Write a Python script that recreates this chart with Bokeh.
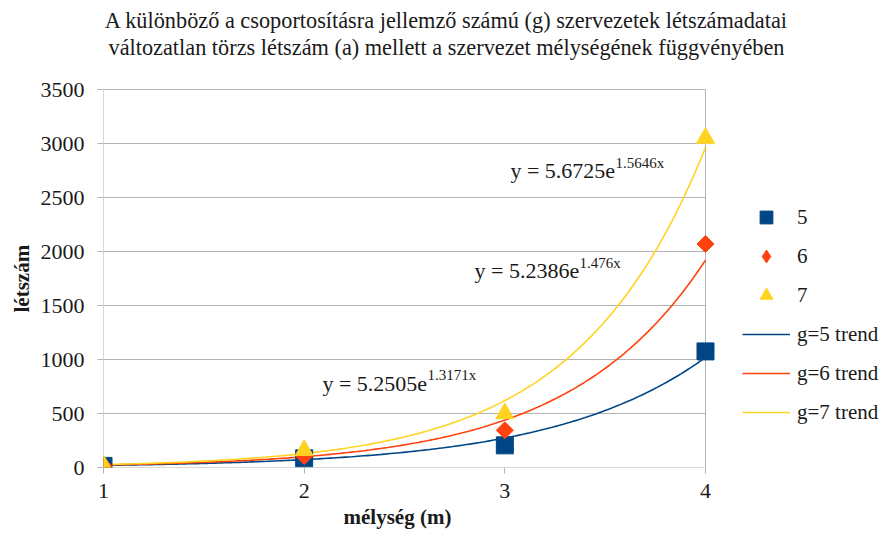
import numpy as np
from bokeh.plotting import figure
from bokeh.models import (ColumnDataSource, Legend, LegendItem, Label, Title,
                          FixedTicker, Range1d)
from bokeh.embed import file_html
from bokeh.resources import INLINE

# Organisation headcount by depth for span-of-control groups g = 5, 6, 7
depth = [1, 2, 3, 4]
g5_headcount = [15, 85, 205, 1075]
g6_headcount = [17, 105, 345, 2070]
g7_headcount = [20, 160, 500, 3050]

groups = ["5", "6", "7"]
trend_names = ["g=5 trend", "g=6 trend", "g=7 trend"]
# exponential trend y = a * exp(b * x)
trend_a = [5.2505, 5.2386, 5.6725]
trend_b = [1.3171, 1.476, 1.5646]

y_ticks = [0, 500, 1000, 1500, 2000, 2500, 3000, 3500]
x_ticks = [1, 2, 3, 4]

title_lines = ["A különböző a csoportosításra jellemző számú (g) szervezetek létszámadatai",
               "változatlan törzs létszám (a) mellett a szervezet mélységének függvényében"]

colors = ["#004586", "#ff420e", "#ffd320"]
FONT = "'Liberation Serif', 'Times New Roman', serif"
GRID = "#b3b3b3"
INK = "#1a1a1a"

X_MIN, X_MAX = x_ticks[0], x_ticks[-1]
Y_MIN, Y_MAX = y_ticks[0], y_ticks[-1]
# data area is 602 x 378 px; the frame extends right over the legend
# and up over the heading, so both live in the same coordinate system
PX_X = 602 / (X_MAX - X_MIN)
PX_Y = 378 / (Y_MAX - Y_MIN)
X_VIEW_END = X_MIN + 779 / PX_X
Y_VIEW_END = Y_MIN + 467 / PX_Y

p = figure(width=882, height=539, output_backend="svg", toolbar_location=None,
           x_range=Range1d(X_MIN, X_VIEW_END), y_range=Range1d(Y_MIN, Y_VIEW_END),
           min_border_left=103, min_border_right=0,
           min_border_top=0, min_border_bottom=72)
p.outline_line_color = None
p.background_fill_color = "white"
p.border_fill_color = "white"
p.title.visible = False

# axes
for ax in (p.xaxis[0], p.yaxis[0]):
    ax.axis_line_color = None
    ax.major_tick_line_color = GRID
    ax.major_tick_in = 0
    ax.major_tick_out = 6
    ax.minor_tick_line_color = None
    ax.major_label_text_font = FONT
    ax.major_label_text_font_size = "22px"
    ax.major_label_text_color = INK

p.xaxis.ticker = FixedTicker(ticks=x_ticks)
p.yaxis.ticker = FixedTicker(ticks=y_ticks)
p.xaxis.major_label_standoff = 10
p.yaxis.major_label_standoff = 13

# axis titles, centred on the data area
p.add_layout(Title(text="mélység (m)", align="left", offset=240,
                   text_font=FONT, text_font_size="21px", text_font_style="bold",
                   text_color=INK, standoff=4), "below")
p.add_layout(Title(text="létszám", align="left", offset=155,
                   text_font=FONT, text_font_size="21px", text_font_style="bold",
                   text_color=INK, standoff=8), "left")

p.xgrid.grid_line_color = None
p.ygrid.grid_line_color = None

# gridlines, y axis line and right border limited to the data area
p.segment(x0=[X_MIN] * len(y_ticks), x1=[X_MAX] * len(y_ticks), y0=y_ticks, y1=y_ticks,
          line_color=GRID, line_width=1)
p.segment(x0=[X_MIN, X_MAX], x1=[X_MIN, X_MAX], y0=[Y_MIN, Y_MIN], y1=[Y_MAX, Y_MAX],
          line_color=GRID, line_width=1)

# heading, two centred lines above the data area
title_x = X_MIN + 343 / PX_X
for line, top_px in zip(title_lines, [20, 47]):
    p.add_layout(Label(x=title_x, y=Y_MIN + (467 - top_px) / PX_Y, text=line,
                       text_align="center", text_baseline="middle",
                       text_font=FONT, text_font_size="22.3px", text_color=INK))

# trend curves
xs = np.linspace(X_MIN, X_MAX, 200)
trend_renderers = []
for a, b, c in zip(trend_a, trend_b, colors):
    r = p.line(xs, a * np.exp(b * xs), line_color=c, line_width=1.6)
    trend_renderers.append(r)

# data markers
series = [g5_headcount, g6_headcount, g7_headcount]
src = [ColumnDataSource(dict(x=depth, y=s)) for s in series]
r5 = p.scatter("x", "y", source=src[0], marker="square", size=17,
               fill_color=colors[0], line_color=colors[0])
r6 = p.scatter("x", "y", source=src[1], marker="square", size=12, angle=np.pi / 4,
               fill_color=colors[1], line_color=colors[1])
r7 = p.scatter("x", "y", source=src[2], marker="triangle", size=18,
               fill_color=colors[2], line_color=colors[2])
# legend swatch for the diamond series (legend glyphs ignore marker angle)
r6_key = p.scatter(x=[np.nan], y=[np.nan], marker="diamond", size=12,
                   fill_color=colors[1], line_color=colors[1])
legend_markers = [r5, r6_key, r7]

# trend equations, with the exponent as a superscript
eq_pos = [(2.091, 778), (2.849, 1824), (3.028, 2750)]
eq_main_width = [105, 105, 105]
for (ex, ey), a, b, w in zip(eq_pos, trend_a, trend_b, eq_main_width):
    p.add_layout(Label(x=ex, y=ey, text=f"y = {a}e", text_font=FONT,
                       text_font_size="22px", text_baseline="middle",
                       text_color=INK))
    p.add_layout(Label(x=ex, y=ey, x_offset=w, y_offset=8, text=f"{b}x",
                       text_font=FONT, text_font_size="15px",
                       text_baseline="middle", text_color=INK))

items = [LegendItem(label=g, renderers=[r]) for g, r in zip(groups, legend_markers)]
items += [LegendItem(label=n, renderers=[r]) for n, r in zip(trend_names, trend_renderers)]
legend = Legend(items=items, location=(639, 39), padding=0, margin=0,
                glyph_width=48, glyph_height=32, label_height=32,
                spacing=7, label_standoff=7,
                label_text_font=FONT, label_text_font_size="21px",
                label_text_color=INK,
                border_line_alpha=0, background_fill_alpha=0)
p.add_layout(legend, "center")

open("out.html", "w").write(file_html(p, INLINE))
